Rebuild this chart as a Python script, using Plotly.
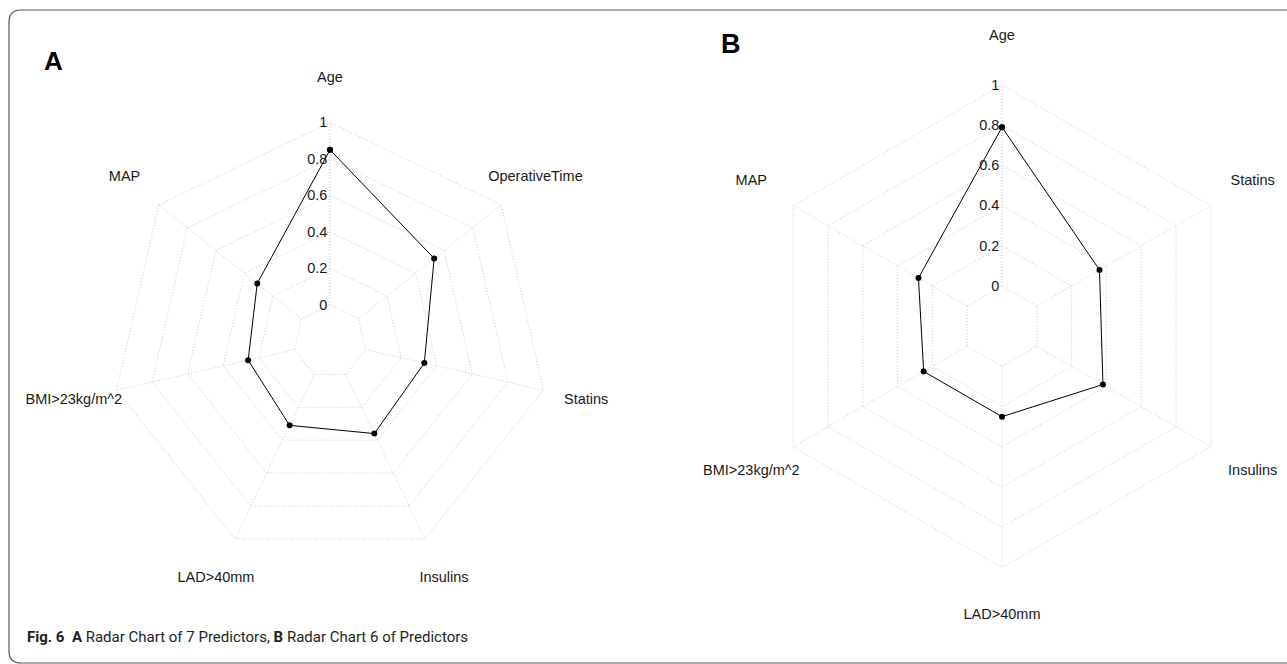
import plotly.graph_objects as go

# ---------------- data ----------------
cats_a = ["Age", "OperativeTime", "Statins", "Insulins", "LAD>40mm", "BMI>23kg/m^2", "MAP"]
vals_a = [0.85, 0.53, 0.33, 0.36, 0.31, 0.26, 0.31]

cats_b = ["Age", "Statins", "Insulins", "LAD>40mm", "BMI>23kg/m^2", "MAP"]
vals_b = [0.79, 0.36, 0.38, 0.25, 0.25, 0.28]

tick_vals = [0, 0.2, 0.4, 0.6, 0.8, 1]
tick_text = ["0", "0.2", "0.4", "0.6", "0.8", "1"]

caption = ("<b>Fig. 6</b>  <b>A</b> Radar Chart of 7 Predictors, "
           "<b>B</b> Radar Chart 6 of Predictors")

# ---------------- layout geometry ----------------
W, H = 1310, 664      # canvas slightly wider than the window; overflow hidden
RMIN = -0.03          # small offset so the zero ring is drawn as a grid line
RMAX = 1.26           # radial range end (room for the category labels)
LABEL_R = 1.24        # category labels at ~1.2x the outer ring (fmsb style)

FONT = "Liberation Sans, Arial, Helvetica, sans-serif"
GRID = "#c8c8c8"
DASH = "1px,2px"


def geom(cx, cy, step):
    """step = pixels per 0.2 of value; value 0 sits one step from the centre."""
    per = step * 5
    r0 = step + per * RMIN
    R = step + per * RMAX
    dom = dict(x=[(cx - R) / W, (cx + R) / W],
               y=[1 - (cy + R) / H, 1 - (cy - R) / H])
    return dom, r0 / R


fig = go.Figure()


def add_radar(cats, vals, sub):
    # spokes from the inner (zero) ring to the outer ring
    sr, st = [], []
    for c in cats:
        sr += [0, 1, None]
        st += [c, c, None]
    fig.add_trace(go.Scatterpolar(
        r=sr, theta=st, subplot=sub, mode="lines",
        line=dict(color=GRID, width=1, dash=DASH),
        showlegend=False, hoverinfo="skip"))
    fig.add_trace(go.Scatterpolar(
        r=vals + vals[:1], theta=cats + cats[:1], subplot=sub,
        mode="lines+markers",
        line=dict(color="black", width=1),
        marker=dict(color="black", size=6),
        showlegend=False, hoverinfo="skip"))
    fig.add_trace(go.Scatterpolar(
        r=[LABEL_R] * len(cats), theta=cats, subplot=sub,
        mode="text", text=cats, textposition="middle center",
        textfont=dict(family=FONT, size=14.5, color="#1a1a1a"),
        cliponaxis=False, showlegend=False, hoverinfo="skip"))


add_radar(cats_a, vals_a, "polar")
add_radar(cats_b, vals_b, "polar2")


def polar_cfg(cx, cy, step):
    dom, hole = geom(cx, cy, step)
    return dict(
        domain=dom,
        hole=hole,
        gridshape="linear",
        bgcolor="rgba(0,0,0,0)",
        radialaxis=dict(range=[RMIN, RMAX], tickvals=tick_vals, ticktext=tick_text,
                        showline=False, ticks="", angle=90, side="counterclockwise",
                        tickangle=90,
                        gridcolor=GRID, griddash=DASH, gridwidth=1,
                        tickfont=dict(family=FONT, size=14.5, color="#1a1a1a")),
        angularaxis=dict(rotation=90, direction="clockwise",
                         showline=False, ticks="", showticklabels=False,
                         showgrid=False),
    )


fig.update_layout(
    width=W, height=H,
    margin=dict(l=0, r=0, t=0, b=0),
    paper_bgcolor="white",
    polar=polar_cfg(330, 341.5, 36.5),
    polar2=polar_cfg(1002, 326.2, 40.2),
    font=dict(family=FONT),
)

# panel letters
fig.add_annotation(x=53 / W, y=1 - 61 / H, xref="paper", yref="paper",
                   text="<b>A</b>", showarrow=False, xanchor="center", yanchor="middle",
                   font=dict(family=FONT, size=26, color="black"))
fig.add_annotation(x=731 / W, y=1 - 44 / H, xref="paper", yref="paper",
                   text="<b>B</b>", showarrow=False, xanchor="center", yanchor="middle",
                   font=dict(family=FONT, size=27, color="black"))

# caption
fig.add_annotation(x=25 / W, y=1 - 637 / H, xref="paper", yref="paper",
                   text=caption, showarrow=False, xanchor="left", yanchor="middle",
                   font=dict(family="Roboto, Open Sans, sans-serif",
                             size=15, color="#231f20"))

# rounded frame
def P(x, y):
    return f"{x / W:.5f},{1 - y / H:.5f}"

path = ("M " + P(1320, 10) + " L " + P(21, 10) + " Q " + P(9, 10) + " " + P(9, 22) +
        " L " + P(9, 651) + " Q " + P(9, 663) + " " + P(21, 663) + " L " + P(1320, 663))
fig.add_shape(type="path", path=path, xref="paper", yref="paper",
              line=dict(color="#555555", width=1.2))

fig.write_html(
    "out.html",
    config={"displayModeBar": False},
    post_script="document.body.style.margin='0px';"
                "document.body.style.overflow='hidden';"
                "document.documentElement.style.overflow='hidden';")
